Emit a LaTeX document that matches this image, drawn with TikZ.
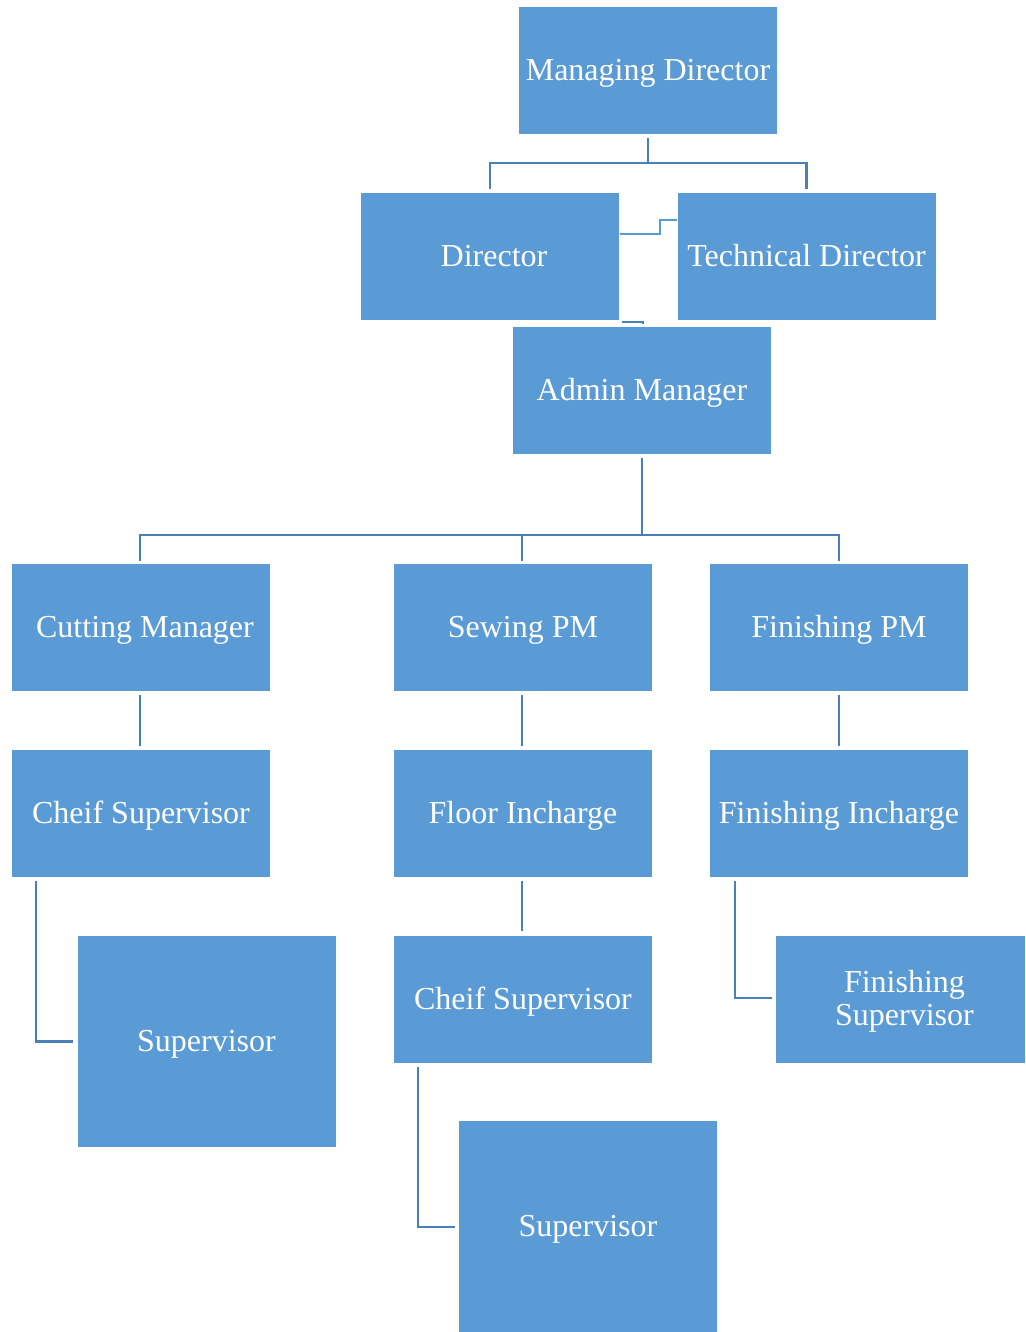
\documentclass[tikz,border=0pt]{standalone}
\usepackage{fontspec}
\setmainfont{Liberation Serif}
\usetikzlibrary{calc}
\definecolor{boxblue}{HTML}{5B9BD5}
\definecolor{lineblue}{HTML}{4A80BA}
\newcommand{\lowr}[2]{\raisebox{-#1}[\height][\depth]{#2}}
\newcommand{\shr}{\hspace*{6pt}}
\begin{document}
\begin{tikzpicture}[x=0.75pt,y=-0.75pt,
  base/.style={fill=boxblue,draw=none,text=white,minimum width=193.5pt,minimum height=95.25pt,
    inner sep=0pt,font=\fontsize{24}{24.75}\selectfont,align=center},
  box/.style={base,text height=20pt,text depth=5pt},
  tallbox/.style={box,minimum height=158.25pt},
  conn/.style={draw=lineblue,line width=1.6pt},
  lconn/.style={draw=boxblue,line width=1.5pt}]
\useasboundingbox (0,0) rectangle (1025,1332);
\node[box] (md) at (648,70.5) {Managing Director};
\node[box] (dir) at (490,256.5) {\shr Director};
\node[box] (tech) at (806.5,256.5) {Technical Director};
\node[box] (adm) at (642,390.5) {Admin Manager};
\node[box] (cut) at (141,627.5) {\shr Cutting Manager};
\node[box] (sew) at (523,627.5) {Sewing PM};
\node[box] (fin) at (839,627.5) {Finishing PM};
\node[box] (chs) at (141,813.5) {Cheif Supervisor};
\node[box] (flo) at (523,813.5) {Floor Incharge};
\node[box] (finc) at (839,813.5) {Finishing Incharge};
\node[tallbox] (sup1) at (206.5,1041.5) {Supervisor};
\node[box] (chm) at (523,999) {Cheif Supervisor};
\node[base,minimum width=186.75pt] (fsup) at (900.5,999) {\lowr{2.25pt}{\begin{tabular}{@{}c@{}}\shr Finishing\\\shr Supervisor\end{tabular}}};
\node[tallbox] (sup2) at (588,1226.5) {Supervisor};
% connectors
\coordinate (j1) at (648,163);
\coordinate (j2) at (642,535);
\draw[conn] ($(md.south)+(0,4)$) -- (j1) -| ($(dir.north)+(0,-4)$);
\draw[conn] (j1) -| ($(tech.north)+(0,-4)$);
\draw[lconn] ($(dir.east)+(1,-22.5)$) -- ++(40,0) |- ($(tech.west)+(0,-36.5)$);
\draw[conn] ($(dir.south east)+(3,2)$) -- ++(21,0) -- ++(0,2);
\draw[conn] ($(adm.south)+(0,4)$) -- (j2) -| ($(cut.north)+(-1,-3)$);
\draw[conn] (j2) -| ($(sew.north)+(-1,-3)$);
\draw[conn] (j2) -| ($(fin.north)+(0,-3)$);
\draw[conn] ($(cut.south)+(-1,4)$) -- ($(chs.north)+(-1,-4)$);
\draw[conn] ($(sew.south)+(-1,4)$) -- ($(flo.north)+(-1,-4)$);
\draw[conn] ($(fin.south)+(0,4)$) -- ($(finc.north)+(0,-4)$);
\draw[conn] ($(flo.south)+(-1,4)$) -- ($(chm.north)+(-1,-4)$);
\draw[conn] ($(chs.south west)+(24,4)$) |- ($(sup1.west)+(-4,0)$);
\draw[conn] ($(finc.south west)+(25,4)$) |- ($(fsup.west)+(-4,-1)$);
\draw[conn] ($(chm.south west)+(24,4)$) |- ($(sup2.west)+(-4,0.5)$);
\end{tikzpicture}
\end{document}
